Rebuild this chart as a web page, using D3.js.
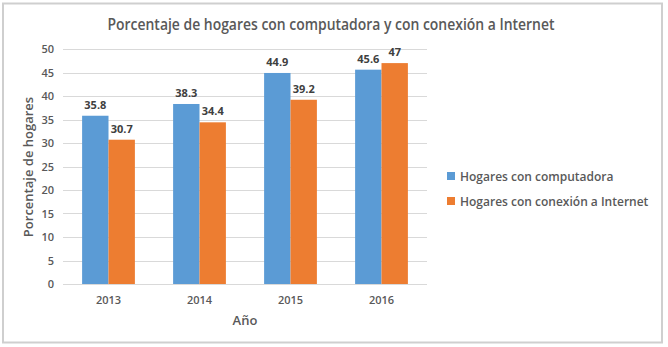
<!DOCTYPE html>
<html><head><meta charset="utf-8">
<script src="https://cdn.jsdelivr.net/npm/d3@7"></script>
<style>body{margin:0;background:#fff}svg{display:block}text{font-family:"Open Sans",Lato,sans-serif}</style>
</head><body>
<script>
const categories = ["2013","2014","2015","2016"];
const seriesNames = ["Hogares con computadora","Hogares con conexión a Internet"];
const computadora = [35.8, 38.3, 44.9, 45.6];
const internet = [30.7, 34.4, 39.2, 47];
const yTicks = [0,5,10,15,20,25,30,35,40,45,50];
const colors = ["#5B9BD5","#ED7D31"];
const series = [computadora, internet];

const W = 668, H = 347;
const svg = d3.select("body").append("svg").attr("width", W).attr("height", H);
svg.append("rect").attr("x",3).attr("y",3.5).attr("width",659).attr("height",339)
  .attr("fill","#fff").attr("stroke","#cfcfcf").attr("stroke-width",2);

const x0 = d3.scaleBand().domain(categories).range([63,427]).paddingInner(0.42).paddingOuter(0.21);
const x1 = d3.scaleBand().domain([0,1]).range([0, x0.bandwidth()]);
const y = d3.scaleLinear().domain([0,50]).range([284,49]);
const txt = "#595959";

svg.append("g").selectAll("line").data(yTicks).join("line")
  .attr("x1",63).attr("x2",427).attr("y1",d=>Math.round(y(d))+0.5).attr("y2",d=>Math.round(y(d))+0.5)
  .attr("stroke","#d9d9d9").attr("stroke-width",1);

svg.append("g").selectAll("text").data(yTicks).join("text")
  .attr("x",54).attr("y",d=>y(d)+4).attr("text-anchor","end")
  .attr("font-size",11).attr("font-weight",600).attr("fill",txt).text(d=>d);

categories.forEach((c,i)=>{
  series.forEach((s,j)=>{
    const bx = x0(c)+x1(j);
    svg.append("rect").attr("x",bx).attr("y",y(s[i])).attr("width",x1.bandwidth())
      .attr("height",y(0)-y(s[i])).attr("fill",colors[j]);
    svg.append("text").attr("x",bx+x1.bandwidth()/2).attr("y",y(s[i])-7)
      .attr("text-anchor","middle").attr("font-size",11).attr("font-weight",700)
      .attr("fill","#404040").text(s[i]);
  });
  svg.append("text").attr("x",x0(c)+x0.bandwidth()/2).attr("y",304).attr("text-anchor","middle")
    .attr("font-size",11).attr("font-weight",600).attr("fill",txt).text(c);
});

svg.append("text").attr("x",245).attr("y",325).attr("text-anchor","middle")
  .attr("font-size",13).attr("font-weight",600).attr("fill",txt).text("Año");
svg.append("text").attr("transform","translate(33,167) rotate(-90)").attr("text-anchor","middle")
  .attr("font-size",13).attr("font-weight",600).attr("fill",txt).text("Porcentaje de hogares");
svg.append("text").attr("x",331).attr("y",30).attr("text-anchor","middle")
  .attr("font-size",15.5).attr("font-weight",600).attr("fill",txt)
  .attr("textLength",447).attr("lengthAdjust","spacingAndGlyphs")
  .text("Porcentaje de hogares con computadora y con conexión a Internet");

seriesNames.forEach((n,j)=>{
  const ly = 176 + j*25;
  svg.append("rect").attr("x",447).attr("y",ly-4).attr("width",8).attr("height",8).attr("fill",colors[j]);
  svg.append("text").attr("x",460).attr("y",ly+4.5).attr("font-size",12).attr("font-weight",600)
    .attr("fill",txt).text(n);
});
</script>
</body></html>
